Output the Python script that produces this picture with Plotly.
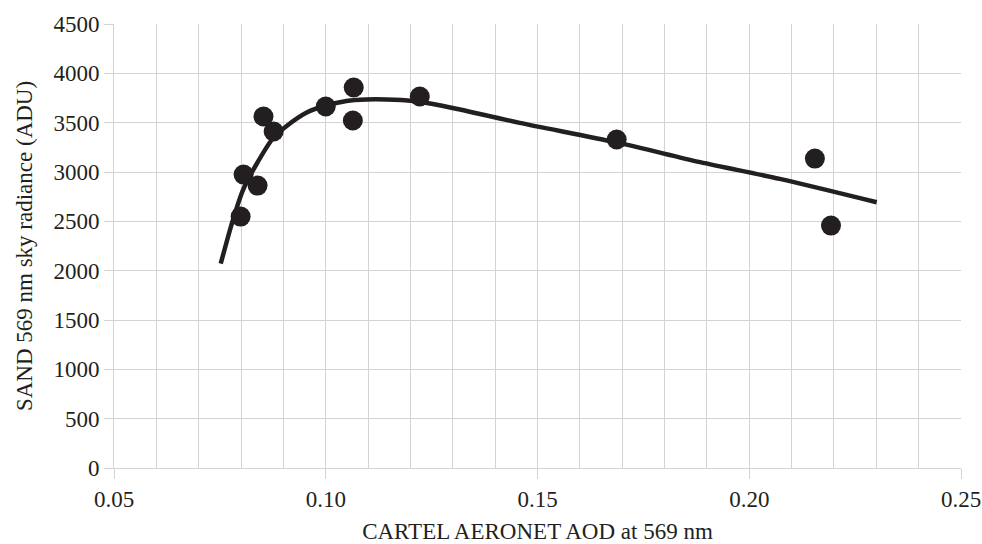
import plotly.graph_objects as go

# Observed points
aod = [0.0799, 0.0806, 0.0839, 0.0853, 0.0877, 0.1000, 0.1066, 0.1064, 0.1222, 0.1687, 0.2155, 0.2193]
radiance = [2548, 2974, 2862, 3562, 3410, 3664, 3856, 3522, 3765, 3329, 3136, 2457]

# Fitted trend curve
fit_x = [0.0752, 0.0781, 0.0805, 0.0836, 0.0876, 0.0907, 0.0954, 0.1000, 0.1049, 0.1096,
         0.1143, 0.1206, 0.1253, 0.1317, 0.1458, 0.1687, 0.1884, 0.2072, 0.2301]
fit_y = [2071, 2518, 2822, 3076, 3346, 3464, 3600, 3674, 3720, 3735,
         3735, 3720, 3690, 3633, 3498, 3300, 3100, 2930, 2693]

x_ticks = [0.05, 0.10, 0.15, 0.20, 0.25]
y_ticks = [0, 500, 1000, 1500, 2000, 2500, 3000, 3500, 4000, 4500]

ink = "#231f20"
grid = "#d3d3d3"
font = "Liberation Serif"

fig = go.Figure()
fig.add_trace(go.Scatter(x=fit_x, y=fit_y, mode="lines",
                         line=dict(color=ink, width=4.5, shape="spline", smoothing=0.8),
                         hoverinfo="skip", showlegend=False))
fig.add_trace(go.Scatter(x=aod, y=radiance, mode="markers",
                         marker=dict(color=ink, size=20, line=dict(width=0)),
                         showlegend=False))

fig.update_layout(
    width=982, height=544,
    margin=dict(l=114, r=21, t=24, b=76),
    paper_bgcolor="white", plot_bgcolor="white",
    font=dict(family=font, size=22, color=ink),
    xaxis=dict(range=[0.05, 0.25], tickvals=x_ticks, ticktext=[f"{v:.2f}" for v in x_ticks],
               automargin=False,
               showgrid=True, gridcolor=grid, gridwidth=1,
               minor=dict(dtick=0.01, tick0=0.05, showgrid=True, gridcolor=grid, gridwidth=1),
               ticks="outside", ticklen=10, tickcolor=grid, tickwidth=1,
               showline=True, linecolor=grid, linewidth=1, zeroline=False,
               title=dict(text="CARTEL AERONET AOD at 569 nm", standoff=12,
                          font=dict(family=font, size=23, color=ink)),
               tickfont=dict(family=font, size=23, color=ink)),
    yaxis=dict(range=[0, 4500], tickvals=y_ticks, ticktext=[str(v) for v in y_ticks],
               automargin=False,
               showgrid=True, gridcolor=grid, gridwidth=1,
               ticks="outside", ticklen=9, tickcolor=grid, tickwidth=1,
               showline=True, linecolor=grid, linewidth=1, zeroline=False,
               title=dict(text="SAND 569 nm sky radiance (ADU)", standoff=14,
                          font=dict(family=font, size=23, color=ink)),
               tickfont=dict(family=font, size=23, color=ink)),
)

fig.write_html("out.html")
